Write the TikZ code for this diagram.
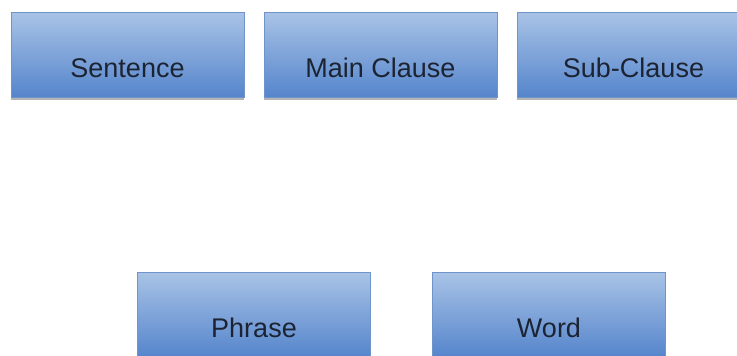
\documentclass[tikz,border=0pt]{standalone}
\usepackage{fontspec}
\setmainfont{Liberation Sans}
\usetikzlibrary{shadows}
\definecolor{boxtop}{HTML}{A9C3E6}
\definecolor{boxbot}{HTML}{5585CC}
\definecolor{boxline}{HTML}{6E94C9}
\definecolor{txt}{HTML}{1C2433}
\tikzset{
  blk/.style={draw=boxline, line width=1pt, top color=boxtop, bottom color=boxbot,
    minimum width=233pt, minimum height=85pt, inner sep=0pt,
    text height=45pt, text depth=0pt,
    font=\fontsize{27}{32}\selectfont, text=txt,
    drop shadow={shadow xshift=0pt, shadow yshift=-3pt, opacity=0.45, fill=black!65}}
}
\begin{document}
\begin{tikzpicture}[x=1pt,y=-1pt]
\useasboundingbox (0,0) rectangle (737,356);
\clip (0,0) rectangle (737,356);
\fill[white] (0,0) rectangle (737,356);
\node[blk] (sentence) at (127.5,54.5) {Sentence};
\node[blk] (main) at (380.5,54.5) {Main Clause};
\node[blk] (sub) at (633.5,54.5) {Sub-Clause};
\node[blk] (phrase) at (254,314.5) {Phrase};
\node[blk] (word) at (549,314.5) {Word};
\end{tikzpicture}
\end{document}
